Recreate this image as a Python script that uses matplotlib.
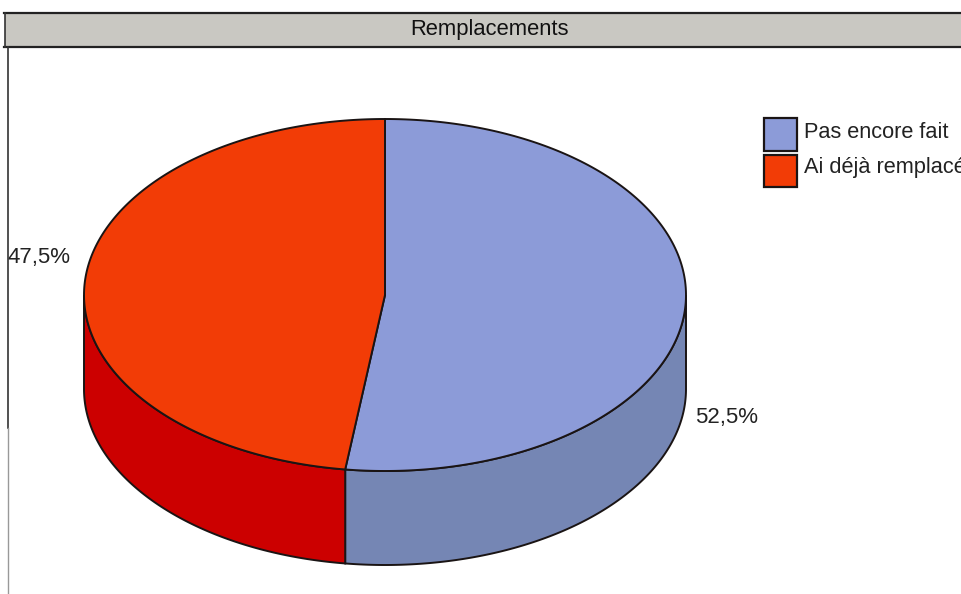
import numpy as np
import matplotlib
matplotlib.use("Agg")
import matplotlib.pyplot as plt
from matplotlib.patches import Polygon, Rectangle

plt.rcParams['font.family'] = ['Liberation Sans', 'DejaVu Sans']

title = "Remplacements"
categories = ["Pas encore fait", "Ai déjà remplacé"]
values = [52.5, 47.5]
labels = ["52,5%", "47,5%"]
top_colors = ["#8c9bd8", "#f23c06"]
side_colors = ["#7586b4", "#cc0000"]
edge = "#1a1414"

W, H = 962, 594
fig = plt.figure(figsize=(W / 100, H / 100), dpi=100, facecolor="white")
ax = fig.add_axes([0, 0, 1, 1])
ax.set_xlim(0, W)
ax.set_ylim(H, 0)
ax.axis("off")

# pie geometry (pixels)
cx, cy, rx, ry, depth = 385, 295, 301, 176, 94
split_shift = -1.4  # slight view correction of the inner boundary, degrees


def rim(a0, a1, n=200):
    t = np.radians(np.linspace(a0, a1, n))
    return cx + rx * np.cos(t), cy + ry * np.sin(t)


# angles measured clockwise on screen from the top
fractions = np.array(values) / sum(values)
angles = -90 + 360 * np.concatenate([[0], np.cumsum(fractions)])
angles[1] += split_shift

# side walls (only the front half of the ellipse, 0..180 deg on screen)
for i in range(2):
    a0, a1 = max(angles[i], 0), min(angles[i + 1], 180)
    if a1 > a0:
        x, y = rim(a0, a1)
        pts = np.r_[np.c_[x, y], np.c_[x[::-1], y[::-1] + depth]]
        ax.add_patch(Polygon(pts, closed=True, fc=side_colors[i], ec=edge, lw=1.4, zorder=2))

# top faces
for i in range(2):
    x, y = rim(angles[i], angles[i + 1])
    pts = np.r_[[[cx, cy]], np.c_[x, y]]
    ax.add_patch(Polygon(pts, closed=True, fc=top_colors[i], ec=edge, lw=1.4, zorder=3))

# header band and frame
ax.add_patch(Rectangle((5, 13), W - 5, 34, fc="#c9c8c2", ec="none", zorder=1))
ax.plot([4, W], [13, 13], color="#222222", lw=1.6, zorder=4)
ax.plot([4, W], [47, 47], color="#222222", lw=1.6, zorder=4)
ax.plot([5, 5], [13, 47], color="#333333", lw=1.2, zorder=4)
ax.plot([8, 8], [47, 428], color="#333333", lw=1.2, zorder=4)
ax.plot([8.5, 8.5], [428, H], color="#999999", lw=1.0, zorder=4)
ax.text(489.5, 30, title, ha="center", va="center", fontsize=15.8, color="#111111", zorder=5)

# data labels
ax.text(695, 418, labels[0], ha="left", va="center", fontsize=16, color="#222222")
ax.text(8, 258, labels[1], ha="left", va="center", fontsize=16, color="#222222")

# legend
for i, (yy, name) in enumerate(zip([118, 155], categories)):
    ax.add_patch(Rectangle((764, yy), 33, 33 - i, fc=top_colors[i], ec=edge, lw=1.6, zorder=3))
    ax.text(804, yy + 15 - i * 2, name, ha="left", va="center", fontsize=15.7, color="#222222",
            zorder=5, clip_on=True)

fig.savefig("out.png", dpi=100, facecolor="white")
